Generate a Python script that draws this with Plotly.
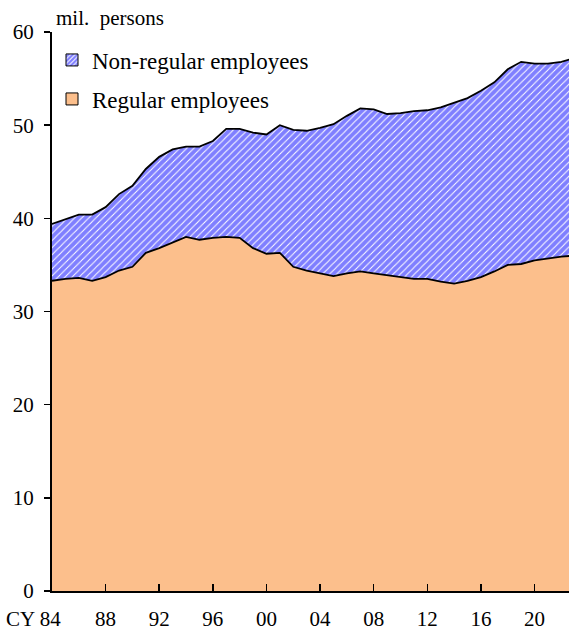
import plotly.graph_objects as go

# ---- data (million persons) ----
years = list(range(1984, 2024))
regular = [33.3, 33.5, 33.6, 33.3, 33.7, 34.4, 34.8, 36.3, 36.8, 37.4,
           38.0, 37.7, 37.9, 38.0, 37.9, 36.8, 36.2, 36.3, 34.8, 34.4,
           34.1, 33.8, 34.1, 34.3, 34.1, 33.9, 33.7, 33.5, 33.5, 33.2,
           33.0, 33.3, 33.7, 34.3, 35.0, 35.1, 35.5, 35.7, 35.9, 36.0]
non_regular = [6.1, 6.4, 6.8, 7.1, 7.5, 8.2, 8.7, 9.0, 9.8, 10.0,
               9.7, 10.0, 10.4, 11.6, 11.7, 12.4, 12.8, 13.7, 14.7, 15.0,
               15.6, 16.3, 16.9, 17.5, 17.6, 17.3, 17.6, 18.0, 18.1, 18.7,
               19.4, 19.6, 20.0, 20.3, 21.0, 21.7, 21.1, 20.9, 20.9, 21.2]
tick_years = list(range(1984, 2021, 4))
tick_text = ["", "88", "92", "96", "00", "04", "08", "12", "16", "20"]
y_ticks = [0, 10, 20, 30, 40, 50, 60]

total = [r + n for r, n in zip(regular, non_regular)]

ORANGE = "#FCBF8C"
BLUE = "#0000FF"
FONT = "Liberation Serif"
FS = 21

W, H = 569, 633
ML, MR, MT, MB = 52, 0, 32, 42
PW, PH = W - ML - MR, H - MT - MB


def px_x(p):  # screen pixel -> paper
    return (p - ML) / PW


def px_y(p):
    return (H - MB - p) / PH


fig = go.Figure()
fig.add_trace(go.Scatter(
    x=years, y=regular, mode="lines", name="Regular employees",
    line=dict(color="black", width=1.8), fill="tozeroy", fillcolor=ORANGE,
    showlegend=False, hoverinfo="skip"))
fig.add_trace(go.Scatter(
    x=years, y=total, mode="lines", name="Non-regular employees",
    line=dict(color="black", width=1.8), fill="tonexty", fillcolor="white",
    fillpattern=dict(shape="/", fgcolor=BLUE, bgcolor="white", size=5, solidity=0.8),
    showlegend=False, hoverinfo="skip"))

# legend entries (square swatches)
fig.add_trace(go.Bar(
    x=[None], y=[None], name="Non-regular employees", legend="legend",
    marker=dict(color="white", line=dict(color="black", width=1),
                pattern=dict(shape="/", fgcolor=BLUE, bgcolor="white", size=4, solidity=0.7))))
fig.add_trace(go.Bar(
    x=[None], y=[None], name="Regular employees", legend="legend2",
    marker=dict(color=ORANGE, line=dict(color="black", width=1))))

legend_common = dict(font=dict(family=FONT, size=23, color="black"),
                     bgcolor="rgba(0,0,0,0)", borderwidth=0,
                     xanchor="left", yanchor="middle", itemclick=False)

fig.update_layout(
    width=W, height=H,
    margin=dict(l=ML, r=MR, t=MT, b=MB, autoexpand=False),
    paper_bgcolor="white", plot_bgcolor="white",
    font=dict(family=FONT, size=FS, color="black"),
    legend=dict(x=px_x(52), y=px_y(60), **legend_common),
    legend2=dict(x=px_x(52), y=px_y(99), **legend_common),
    xaxis=dict(type="linear", range=[1984, 2022.57], tickmode="array",
               tickvals=tick_years, ticktext=tick_text, ticks="inside",
               ticklen=7, tickwidth=1.5, tickcolor="black", showline=True,
               linecolor="black", linewidth=2, showgrid=False, zeroline=False,
               tickfont=dict(family=FONT, size=FS), ticklabelstandoff=8,
               automargin=False),
    yaxis=dict(range=[0, 60], tickmode="array", tickvals=y_ticks,
               ticks="outside", ticklen=6, tickwidth=1.5, tickcolor="black",
               showline=True, linecolor="black", linewidth=2, showgrid=False,
               zeroline=False, tickfont=dict(family=FONT, size=FS),
               ticklabelstandoff=6, automargin=False),
    annotations=[
        dict(text="mil.  persons", xref="paper", yref="paper",
             x=px_x(54), y=px_y(18), xanchor="left", yanchor="middle",
             showarrow=False, font=dict(family=FONT, size=FS)),
        dict(text="CY 84", xref="paper", yref="paper",
             x=px_x(63), y=px_y(619), xanchor="right", yanchor="middle",
             showarrow=False, font=dict(family=FONT, size=FS)),
    ],
)

fig.write_html(
    "out.html",
    config={"displayModeBar": False, "staticPlot": True},
    post_script="document.body.style.margin='0';document.body.style.overflow='hidden';"
                "document.documentElement.style.overflow='hidden';",
)
